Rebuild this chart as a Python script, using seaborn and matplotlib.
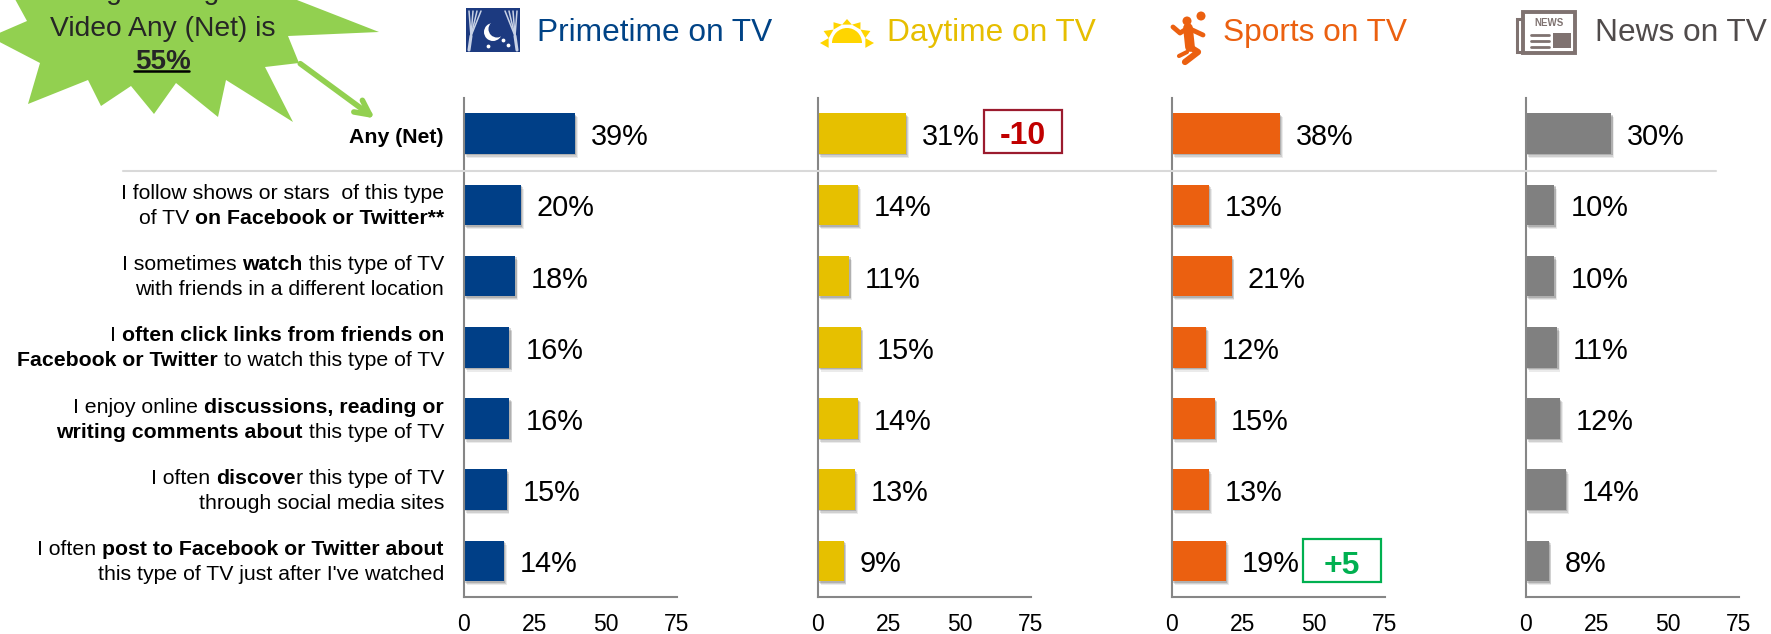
import seaborn as sns
import matplotlib
matplotlib.use('Agg')
import matplotlib.pyplot as plt
import matplotlib.patches as mpatches
import matplotlib.patheffects as pe
import pandas as pd
import numpy as np

categories = ['Any (Net)', 'Follow', 'Watch', 'Click', 'Discuss', 'Discover', 'Post']
primetime = [39, 20, 18, 16, 16, 15, 14]
daytime = [31, 14, 11, 15, 14, 13, 9]
sports = [38, 13, 21, 12, 15, 13, 19]
news = [30, 10, 10, 11, 12, 14, 8]
panel_names = ['Primetime on TV', 'Daytime on TV', 'Sports on TV', 'News on TV']
tick_labels = [0, 25, 50, 75]

# each row label is two lines of (text, bold) pieces
row_labels = [
    [[('Any (Net)', True)]],
    [[('I follow shows or stars  of this type', False)],
     [('of TV ', False), ('on Facebook or Twitter**', True)]],
    [[('I sometimes ', False), ('watch', True), (' this type of TV', False)],
     [('with friends in a different location', False)]],
    [[('I ', False), ('often click links from friends on', True)],
     [('Facebook or Twitter', True), (' to watch this type of TV', False)]],
    [[('I enjoy online ', False), ('discussions, reading or', True)],
     [('writing comments about', True), (' this type of TV', False)]],
    [[('I often ', False), ('discove', True), ('r this type of TV', False)],
     [('through social media sites', False)]],
    [[('I often ', False), ('post to Facebook or Twitter about', True)],
     [("this type of TV just after I've watched", False)]],
]

W, H = 1771, 634
NAVY, YELLOW, ORANGE, GRAY = '#003F87', '#E6C000', '#EB6010', '#808080'
SPINE = '#868686'
GREEN = '#92D050'
LABEL_SIZE = 15.3

sns.set_style('white')
plt.rcParams['font.family'] = ['Liberation Sans', 'DejaVu Sans']

fig = plt.figure(figsize=(W / 100, H / 100), dpi=100)

# Bar panels
lefts = [464, 818, 1172, 1526]
series = [primetime, daytime, sports, news]
colors = [NAVY, YELLOW, ORANGE, GRAY]
soft_shadow = [pe.SimplePatchShadow(offset=(1, -1), alpha=0.22, shadow_rgbFace='#444444'),
               pe.SimplePatchShadow(offset=(1.5, -2), alpha=0.16, shadow_rgbFace='#444444'),
               pe.SimplePatchShadow(offset=(2, -3), alpha=0.1, shadow_rgbFace='#444444'),
               pe.Normal()]
for left, values, color in zip(lefts, series, colors):
    ax = fig.add_axes([left / W, 1 - 596.5 / H, 213 / W, 498.5 / H])
    data = pd.DataFrame({'category': categories, 'value': values})
    sns.barplot(data=data, x='value', y='category', color=color, width=0.57,
                saturation=1, linewidth=0, ax=ax)
    for bar in ax.patches:
        bar.set_path_effects(soft_shadow)
    for label in ax.bar_label(ax.containers[0], fmt='%d%%', padding=12, fontsize=20.8, color='black'):
        label.xyann = (11.5, -2.5)
    ax.set_xlim(0, 75)
    ax.set_xticks(tick_labels)
    ax.set_yticks([])
    ax.set_xlabel('')
    ax.set_ylabel('')
    ax.tick_params(axis='x', length=0, pad=12, labelsize=16.5, labelcolor='black')
    sns.despine(ax=ax)
    for side in ['left', 'bottom']:
        ax.spines[side].set_color(SPINE)
        ax.spines[side].set_linewidth(1.5)

# Overlay in pixel coordinates for headers, callout, row labels
ov = fig.add_axes([0, 0, 1, 1], facecolor='none')
ov.set_xlim(0, W)
ov.set_ylim(H, 0)
ov.axis('off')

ov.plot([123, 1716], [171, 171], color='#D9D9D9', lw=1.5, zorder=1)

header_x = [537, 887, 1223, 1595]
header_colors = ['#004386', '#E6BE00', '#EB6010', '#504B4B']
for x, name, color in zip(header_x, panel_names, header_colors):
    ov.text(x, 33, name, color=color, fontsize=22.8, va='center', ha='left')

# Row labels, built piece by piece so bold runs sit inside a line
renderer = fig.canvas.get_renderer()


def run_width(text, bold):
    weight = 'bold' if bold else 'normal'
    full = ov.text(0, 0, '|' + text + '|', fontsize=LABEL_SIZE, fontweight=weight)
    bars = ov.text(0, 0, '||', fontsize=LABEL_SIZE, fontweight=weight)
    width = full.get_window_extent(renderer).width - bars.get_window_extent(renderer).width
    full.remove()
    bars.remove()
    return width


for i, lines in enumerate(row_labels):
    center = 132.5 + 71.33 * i
    if len(lines) == 1:
        center += 3
    offset = -12.5 * (len(lines) - 1)
    for j, line in enumerate(lines):
        x = 444 - sum(run_width(t, b) for t, b in line)
        for text, bold in line:
            ov.text(x, center + offset + 25 * j, text, fontsize=LABEL_SIZE, ha='left', va='center_baseline',
                    fontweight='bold' if bold else 'normal', color='black')
            x += run_width(text, bold)

# Delta boxes
ov.add_patch(mpatches.Rectangle((984, 110), 78, 43, fill=False, ec='#9B1B2E', lw=1.6))
ov.text(1023, 136, '-10', color='#C00000', fontsize=23, fontweight='bold', ha='center', va='center')
ov.add_patch(mpatches.Rectangle((1303, 539), 78, 43, fill=False, ec='#00B050', lw=1.6))
ov.text(1342, 566, '+5', color='#00B050', fontsize=23, fontweight='bold', ha='center', va='center')

# Starburst callout
burst_x = [297, 379, 288, 299, 265, 293, 226, 218, 176, 154, 131, 101, 88, 28, 40, -10, 27, 10, 100]
burst_y = [0, 32, 36, 63, 67, 122, 80, 117, 83, 114, 86, 106, 80, 104, 63, 37, 21, -10, -10]
ov.add_patch(mpatches.Polygon(np.column_stack([burst_x, burst_y]), closed=True, fc=GREEN, ec='none', zorder=2))
ov.annotate('', xy=(377, 120), xytext=(298, 62),
            arrowprops=dict(arrowstyle='->', color=GREEN, lw=4, mutation_scale=26), zorder=2)
ov.text(163, -8, 'Regular Digital', fontsize=20.3, ha='center', va='center', zorder=3, clip_on=False)
ov.text(163, 29, 'Video Any (Net) is', fontsize=20.3, ha='center', va='center', zorder=3)
ov.text(163, 62, '55%', fontsize=20, fontweight='bold', ha='center', va='center', zorder=3)
ov.plot([134, 189], [71, 71], color='black', lw=1.8, zorder=3)

# Icons: window with curtains and moon
WINDOW = '#1C3A80'
ov.add_patch(mpatches.Rectangle((466, 8), 54, 44, fc=WINDOW, ec='none', zorder=2))
for x_top in [469, 473, 477, 481]:
    ov.plot([x_top, 471], [11, 36], color='#C8D2E6', lw=1.1, zorder=3)
    ov.plot([986 - x_top, 515], [11, 36], color='#C8D2E6', lw=1.1, zorder=3)
ov.plot([471, 469], [36, 50], color='#C8D2E6', lw=2.2, zorder=3)
ov.plot([515, 517], [36, 50], color='#C8D2E6', lw=2.2, zorder=3)
ov.add_patch(mpatches.Circle((493, 32), 9, fc='white', ec='none', zorder=3))
ov.add_patch(mpatches.Circle((497, 29), 8.5, fc=WINDOW, ec='none', zorder=3))
ov.scatter([503, 488, 508], [40, 46, 45], s=3, color='white', zorder=3)

# Icons: rising sun
SUN = '#FFD500'
for a in np.radians([0, 30, 60, 90, 120, 150, 180]):
    ov.add_patch(mpatches.Polygon([[847 + 19 * np.cos(a - 0.26), 43 - 19 * np.sin(a - 0.26)],
                                   [847 + 19 * np.cos(a + 0.26), 43 - 19 * np.sin(a + 0.26)],
                                   [847 + 27 * np.cos(a), 43 - 24 * np.sin(a)]], fc=SUN, ec='none', zorder=2))
ov.add_patch(mpatches.Wedge((847, 43), 15, 180, 360, fc=SUN, ec='none', zorder=2))

# Icons: sports figure
ov.add_patch(mpatches.Circle((1201, 16), 4.5, fc=ORANGE, ec='none', zorder=2))
ov.add_patch(mpatches.Circle((1187, 21), 4.5, fc=ORANGE, ec='none', zorder=2))
ov.plot([1173, 1180, 1188, 1203], [27, 33, 28, 35], color=ORANGE, lw=3.5, zorder=2, solid_capstyle='round')
ov.plot([1188, 1190], [28, 47], color=ORANGE, lw=7, zorder=2, solid_capstyle='round')
ov.plot([1190, 1198, 1185], [47, 52, 62], color=ORANGE, lw=4.5, zorder=2, solid_capstyle='round')
ov.plot([1179, 1187], [56, 52], color=ORANGE, lw=3, zorder=2, solid_capstyle='round')

# Icons: newspaper
PAPER = '#7F7270'
ov.add_patch(mpatches.Rectangle((1517, 19), 6, 33, fc='white', ec=PAPER, lw=2.2, zorder=2))
ov.add_patch(mpatches.Rectangle((1523, 12), 52, 41, fc='white', ec=PAPER, lw=2.8, zorder=2))
ov.add_patch(mpatches.Rectangle((1553, 33), 18, 15, fc=PAPER, ec='none', zorder=3))
ov.text(1549, 23, 'NEWS', fontsize=7, color=PAPER, fontweight='bold', ha='center', va='center', zorder=3)
for y in [35, 41, 47]:
    ov.plot([1531, 1549], [y, y], color=PAPER, lw=2, zorder=3)

fig.savefig('out.png', dpi=100)
